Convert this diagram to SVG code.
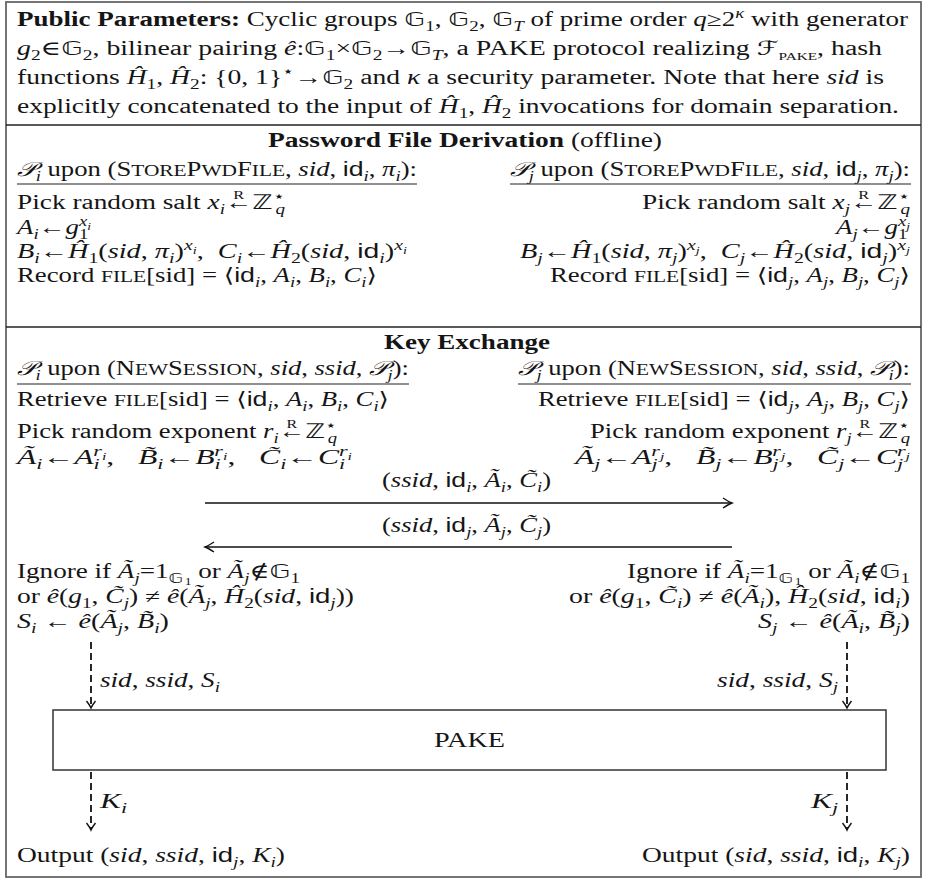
<svg xmlns="http://www.w3.org/2000/svg" width="928" height="880" viewBox="0 0 928 880">
<style>
.t{font-family:"Liberation Serif","DejaVu Serif",serif;font-size:20px;fill:#151515}
.bf{font-weight:bold}
.it{font-style:italic}
.sf{font-family:"Liberation Sans","DejaVu Sans",sans-serif;font-style:normal}
.bb{font-family:"DejaVu Sans",sans-serif;font-style:normal}
.cal{font-family:"DejaVu Sans","DejaVu Serif",serif;font-style:italic}
.sc{font-size:16px}
.sb{font-size:14px;baseline-shift:-4.5px}
.sp{font-size:14px;baseline-shift:8px}
.spsb{font-size:10px;baseline-shift:4.5px}
.sb2{font-size:10px;baseline-shift:-7px}
.ov{font-size:12px;baseline-shift:10px;font-style:normal}
.rule{stroke:#222;stroke-width:1.4;fill:none}
.ul{stroke:#222;stroke-width:1.2}
.frame{stroke:#666;stroke-width:1.8;fill:none}
.arr{stroke:#111;stroke-width:1.6;fill:none}
.dash{stroke:#111;stroke-width:1.8;stroke-dasharray:7 4;fill:none}
</style>
<defs>
<marker id="ah" markerWidth="14" markerHeight="14" viewBox="-12 -7 14 14" refX="0" refY="0" orient="auto" markerUnits="userSpaceOnUse">
<path d="M-9,-5 Q-3,-1 0,0 Q-3,1 -9,5" stroke="#111" stroke-width="1.4" fill="none"/>
</marker>
<marker id="ahs" markerWidth="12" markerHeight="12" viewBox="-10 -6 12 12" refX="0" refY="0" orient="auto" markerUnits="userSpaceOnUse">
<path d="M-7,-4.5 Q-2.5,-1 0,0 Q-2.5,1 -7,4.5" stroke="#111" stroke-width="1.4" fill="none"/>
</marker>
</defs>
<rect class="frame" x="6" y="2" width="915" height="875"/>
<line class="rule" x1="6" y1="125" x2="921" y2="125"/>
<line class="rule" x1="6" y1="327" x2="921" y2="327"/>

<g id="params">
<text class="t" x="17" y="26" textLength="891" lengthAdjust="spacingAndGlyphs"><tspan class="bf">Public Parameters:</tspan> Cyclic groups <tspan class="bb">𝔾</tspan><tspan class="sb">1</tspan>, <tspan class="bb">𝔾</tspan><tspan class="sb">2</tspan>, <tspan class="bb">𝔾</tspan><tspan class="sb it">T</tspan> of prime order <tspan class="it">q</tspan>≥2<tspan class="sp it">κ</tspan> with generator</text>
<text class="t" x="17" y="55" textLength="865" lengthAdjust="spacingAndGlyphs"><tspan class="it">g</tspan><tspan class="sb">2</tspan>∈<tspan class="bb">𝔾</tspan><tspan class="sb">2</tspan>, bilinear pairing <tspan class="it">ê</tspan>:<tspan class="bb">𝔾</tspan><tspan class="sb">1</tspan>×<tspan class="bb">𝔾</tspan><tspan class="sb">2</tspan>→<tspan class="bb">𝔾</tspan><tspan class="sb it">T</tspan>, a PAKE protocol realizing <tspan class="cal">ℱ</tspan><tspan class="sb" style="font-size:11px">PAKE</tspan>, hash</text>
<text class="t" x="17" y="84" textLength="867" lengthAdjust="spacingAndGlyphs">functions <tspan class="it">Ĥ</tspan><tspan class="sb">1</tspan>, <tspan class="it">Ĥ</tspan><tspan class="sb">2</tspan>: {0, 1}<tspan class="sp">⋆</tspan>→<tspan class="bb">𝔾</tspan><tspan class="sb">2</tspan> and <tspan class="it">κ</tspan> a security parameter. Note that here <tspan class="it">sid</tspan> is</text>
<text class="t" x="17" y="113" textLength="882" lengthAdjust="spacingAndGlyphs">explicitly concatenated to the input of <tspan class="it">Ĥ</tspan><tspan class="sb">1</tspan>, <tspan class="it">Ĥ</tspan><tspan class="sb">2</tspan> invocations for domain separation.</text>
</g>

<g id="pwd-header">
<text class="t" x="268" y="147" textLength="394" lengthAdjust="spacingAndGlyphs"><tspan class="bf">Password File Derivation</tspan> (offline)</text>
</g>

<g id="pwd-Pi">
<text class="t" x="17" y="176" textLength="400" lengthAdjust="spacingAndGlyphs"><tspan class="cal">𝒫</tspan><tspan class="sb it">i</tspan> upon (S<tspan class="sc">TORE</tspan>P<tspan class="sc">WD</tspan>F<tspan class="sc">ILE</tspan>, <tspan class="it">sid</tspan>, <tspan class="sf">id</tspan><tspan class="sb it">i</tspan>, <tspan class="it">π</tspan><tspan class="sb it">i</tspan>):</text>
<line class="ul" x1="17" y1="184" x2="417" y2="184"/>
<text class="t" x="17" y="209" textLength="268" lengthAdjust="spacingAndGlyphs">Pick random salt <tspan class="it">x</tspan><tspan class="sb it">i</tspan>←<tspan class="ov" dx="-14">R</tspan><tspan class="bb" dx="6">ℤ</tspan><tspan class="sp">⋆</tspan><tspan class="sb it" dx="-7">q</tspan></text>
<text class="t" x="17" y="234" textLength="74" lengthAdjust="spacingAndGlyphs"><tspan class="it">A</tspan><tspan class="sb it">i</tspan>←<tspan class="it">g</tspan><tspan class="sb">1</tspan><tspan class="sp it" dx="-7">x</tspan><tspan class="spsb it">i</tspan></text>
<text class="t" x="17" y="258" textLength="390" lengthAdjust="spacingAndGlyphs"><tspan class="it">B</tspan><tspan class="sb it">i</tspan>←<tspan class="it">Ĥ</tspan><tspan class="sb">1</tspan>(<tspan class="it">sid</tspan>, <tspan class="it">π</tspan><tspan class="sb it">i</tspan>)<tspan class="sp it">x</tspan><tspan class="spsb it">i</tspan>,&#160;&#160;<tspan class="it">C</tspan><tspan class="sb it">i</tspan>←<tspan class="it">Ĥ</tspan><tspan class="sb">2</tspan>(<tspan class="it">sid</tspan>, <tspan class="sf">id</tspan><tspan class="sb it">i</tspan>)<tspan class="sp it">x</tspan><tspan class="spsb it">i</tspan></text>
<text class="t" x="17" y="282" textLength="360" lengthAdjust="spacingAndGlyphs">Record <tspan class="sc">FILE</tspan>[sid] = ⟨<tspan class="sf">id</tspan><tspan class="sb it">i</tspan>, <tspan class="it">A</tspan><tspan class="sb it">i</tspan>, <tspan class="it">B</tspan><tspan class="sb it">i</tspan>, <tspan class="it">C</tspan><tspan class="sb it">i</tspan>⟩</text>
</g>

<g id="pwd-Pj">
<text class="t" x="510" y="176" textLength="400" lengthAdjust="spacingAndGlyphs"><tspan class="cal">𝒫</tspan><tspan class="sb it">j</tspan> upon (S<tspan class="sc">TORE</tspan>P<tspan class="sc">WD</tspan>F<tspan class="sc">ILE</tspan>, <tspan class="it">sid</tspan>, <tspan class="sf">id</tspan><tspan class="sb it">j</tspan>, <tspan class="it">π</tspan><tspan class="sb it">j</tspan>):</text>
<line class="ul" x1="510" y1="184" x2="911" y2="184"/>
<text class="t" x="642" y="209" textLength="268" lengthAdjust="spacingAndGlyphs">Pick random salt <tspan class="it">x</tspan><tspan class="sb it">j</tspan>←<tspan class="ov" dx="-14">R</tspan><tspan class="bb" dx="6">ℤ</tspan><tspan class="sp">⋆</tspan><tspan class="sb it" dx="-7">q</tspan></text>
<text class="t" x="836" y="234" textLength="74" lengthAdjust="spacingAndGlyphs"><tspan class="it">A</tspan><tspan class="sb it">j</tspan>←<tspan class="it">g</tspan><tspan class="sb">1</tspan><tspan class="sp it" dx="-7">x</tspan><tspan class="spsb it">j</tspan></text>
<text class="t" x="520" y="258" textLength="390" lengthAdjust="spacingAndGlyphs"><tspan class="it">B</tspan><tspan class="sb it">j</tspan>←<tspan class="it">Ĥ</tspan><tspan class="sb">1</tspan>(<tspan class="it">sid</tspan>, <tspan class="it">π</tspan><tspan class="sb it">j</tspan>)<tspan class="sp it">x</tspan><tspan class="spsb it">j</tspan>,&#160;&#160;<tspan class="it">C</tspan><tspan class="sb it">j</tspan>←<tspan class="it">Ĥ</tspan><tspan class="sb">2</tspan>(<tspan class="it">sid</tspan>, <tspan class="sf">id</tspan><tspan class="sb it">j</tspan>)<tspan class="sp it">x</tspan><tspan class="spsb it">j</tspan></text>
<text class="t" x="550" y="282" textLength="360" lengthAdjust="spacingAndGlyphs">Record <tspan class="sc">FILE</tspan>[sid] = ⟨<tspan class="sf">id</tspan><tspan class="sb it">j</tspan>, <tspan class="it">A</tspan><tspan class="sb it">j</tspan>, <tspan class="it">B</tspan><tspan class="sb it">j</tspan>, <tspan class="it">C</tspan><tspan class="sb it">j</tspan>⟩</text>
</g>

<g id="ke-header">
<text class="t bf" x="384" y="349" textLength="166" lengthAdjust="spacingAndGlyphs">Key Exchange</text>
</g>

<g id="ke-Pi">
<text class="t" x="17" y="375" textLength="392" lengthAdjust="spacingAndGlyphs"><tspan class="cal">𝒫</tspan><tspan class="sb it">i</tspan> upon (N<tspan class="sc">EW</tspan>S<tspan class="sc">ESSION</tspan>, <tspan class="it">sid</tspan>, <tspan class="it">ssid</tspan>, <tspan class="cal">𝒫</tspan><tspan class="sb it">j</tspan>):</text>
<line class="ul" x1="17" y1="384" x2="409" y2="384"/>
<text class="t" x="17" y="406" textLength="372" lengthAdjust="spacingAndGlyphs">Retrieve <tspan class="sc">FILE</tspan>[sid] = ⟨<tspan class="sf">id</tspan><tspan class="sb it">i</tspan>, <tspan class="it">A</tspan><tspan class="sb it">i</tspan>, <tspan class="it">B</tspan><tspan class="sb it">i</tspan>, <tspan class="it">C</tspan><tspan class="sb it">i</tspan>⟩</text>
<text class="t" x="17" y="438" textLength="320" lengthAdjust="spacingAndGlyphs">Pick random exponent <tspan class="it">r</tspan><tspan class="sb it">i</tspan>←<tspan class="ov" dx="-14">R</tspan><tspan class="bb" dx="6">ℤ</tspan><tspan class="sp">⋆</tspan><tspan class="sb it" dx="-7">q</tspan></text>
<text class="t" x="17" y="464" textLength="335" lengthAdjust="spacingAndGlyphs"><tspan class="it">Ã</tspan><tspan class="sb it">i</tspan>←<tspan class="it">A</tspan><tspan class="sb it">i</tspan><tspan class="sp it" dx="-4">r</tspan><tspan class="spsb it">i</tspan>,&#160;&#160;&#160;<tspan class="it">B̃</tspan><tspan class="sb it">i</tspan>←<tspan class="it">B</tspan><tspan class="sb it">i</tspan><tspan class="sp it" dx="-4">r</tspan><tspan class="spsb it">i</tspan>,&#160;&#160;&#160;<tspan class="it">C̃</tspan><tspan class="sb it">i</tspan>←<tspan class="it">C</tspan><tspan class="sb it">i</tspan><tspan class="sp it" dx="-4">r</tspan><tspan class="spsb it">i</tspan></text>
<text class="t" x="17" y="578" textLength="283" lengthAdjust="spacingAndGlyphs">Ignore if <tspan class="it">Ã</tspan><tspan class="sb it">j</tspan>=1<tspan class="sb bb">𝔾</tspan><tspan class="sb2" dx="1">1</tspan> or <tspan class="it">Ã</tspan><tspan class="sb it">j</tspan>∉<tspan class="bb">𝔾</tspan><tspan class="sb">1</tspan></text>
<text class="t" x="17" y="603" textLength="337" lengthAdjust="spacingAndGlyphs">or <tspan class="it">ê</tspan>(<tspan class="it">g</tspan><tspan class="sb">1</tspan>, <tspan class="it">C̃</tspan><tspan class="sb it">j</tspan>) ≠ <tspan class="it">ê</tspan>(<tspan class="it">Ã</tspan><tspan class="sb it">j</tspan>, <tspan class="it">Ĥ</tspan><tspan class="sb">2</tspan>(<tspan class="it">sid</tspan>, <tspan class="sf">id</tspan><tspan class="sb it">j</tspan>))</text>
<text class="t" x="17" y="628" textLength="152" lengthAdjust="spacingAndGlyphs"><tspan class="it">S</tspan><tspan class="sb it">i</tspan> ← <tspan class="it">ê</tspan>(<tspan class="it">Ã</tspan><tspan class="sb it">j</tspan>, <tspan class="it">B̃</tspan><tspan class="sb it">i</tspan>)</text>
</g>

<g id="ke-Pj">
<text class="t" x="518" y="375" textLength="392" lengthAdjust="spacingAndGlyphs"><tspan class="cal">𝒫</tspan><tspan class="sb it">j</tspan> upon (N<tspan class="sc">EW</tspan>S<tspan class="sc">ESSION</tspan>, <tspan class="it">sid</tspan>, <tspan class="it">ssid</tspan>, <tspan class="cal">𝒫</tspan><tspan class="sb it">i</tspan>):</text>
<line class="ul" x1="518" y1="384" x2="911" y2="384"/>
<text class="t" x="538" y="406" textLength="372" lengthAdjust="spacingAndGlyphs">Retrieve <tspan class="sc">FILE</tspan>[sid] = ⟨<tspan class="sf">id</tspan><tspan class="sb it">j</tspan>, <tspan class="it">A</tspan><tspan class="sb it">j</tspan>, <tspan class="it">B</tspan><tspan class="sb it">j</tspan>, <tspan class="it">C</tspan><tspan class="sb it">j</tspan>⟩</text>
<text class="t" x="590" y="438" textLength="320" lengthAdjust="spacingAndGlyphs">Pick random exponent <tspan class="it">r</tspan><tspan class="sb it">j</tspan>←<tspan class="ov" dx="-14">R</tspan><tspan class="bb" dx="6">ℤ</tspan><tspan class="sp">⋆</tspan><tspan class="sb it" dx="-7">q</tspan></text>
<text class="t" x="575" y="464" textLength="335" lengthAdjust="spacingAndGlyphs"><tspan class="it">Ã</tspan><tspan class="sb it">j</tspan>←<tspan class="it">A</tspan><tspan class="sb it">j</tspan><tspan class="sp it" dx="-4">r</tspan><tspan class="spsb it">j</tspan>,&#160;&#160;&#160;<tspan class="it">B̃</tspan><tspan class="sb it">j</tspan>←<tspan class="it">B</tspan><tspan class="sb it">j</tspan><tspan class="sp it" dx="-4">r</tspan><tspan class="spsb it">j</tspan>,&#160;&#160;&#160;<tspan class="it">C̃</tspan><tspan class="sb it">j</tspan>←<tspan class="it">C</tspan><tspan class="sb it">j</tspan><tspan class="sp it" dx="-4">r</tspan><tspan class="spsb it">j</tspan></text>
<text class="t" x="627" y="578" textLength="283" lengthAdjust="spacingAndGlyphs">Ignore if <tspan class="it">Ã</tspan><tspan class="sb it">i</tspan>=1<tspan class="sb bb">𝔾</tspan><tspan class="sb2" dx="1">1</tspan> or <tspan class="it">Ã</tspan><tspan class="sb it">i</tspan>∉<tspan class="bb">𝔾</tspan><tspan class="sb">1</tspan></text>
<text class="t" x="569" y="603" textLength="341" lengthAdjust="spacingAndGlyphs">or <tspan class="it">ê</tspan>(<tspan class="it">g</tspan><tspan class="sb">1</tspan>, <tspan class="it">C̃</tspan><tspan class="sb it">i</tspan>) ≠ <tspan class="it">ê</tspan>(<tspan class="it">Ã</tspan><tspan class="sb it">i</tspan>), <tspan class="it">Ĥ</tspan><tspan class="sb">2</tspan>(<tspan class="it">sid</tspan>, <tspan class="sf">id</tspan><tspan class="sb it">i</tspan>)</text>
<text class="t" x="758" y="628" textLength="152" lengthAdjust="spacingAndGlyphs"><tspan class="it">S</tspan><tspan class="sb it">j</tspan> ← <tspan class="it">ê</tspan>(<tspan class="it">Ã</tspan><tspan class="sb it">i</tspan>, <tspan class="it">B̃</tspan><tspan class="sb it">j</tspan>)</text>
</g>

<g id="pake">
<rect x="53" y="710" width="833" height="60" fill="none" stroke="#333" stroke-width="1.5"/>
<text class="t" x="434" y="747" textLength="71" lengthAdjust="spacingAndGlyphs">PAKE</text>
</g>

<g id="out-i">
<text class="t" x="17" y="862" textLength="268" lengthAdjust="spacingAndGlyphs">Output (<tspan class="it">sid</tspan>, <tspan class="it">ssid</tspan>, <tspan class="sf">id</tspan><tspan class="sb it">j</tspan>, <tspan class="it">K</tspan><tspan class="sb it">i</tspan>)</text>
</g>
<g id="out-j">
<text class="t" x="642" y="862" textLength="268" lengthAdjust="spacingAndGlyphs">Output (<tspan class="it">sid</tspan>, <tspan class="it">ssid</tspan>, <tspan class="sf">id</tspan><tspan class="sb it">i</tspan>, <tspan class="it">K</tspan><tspan class="sb it">j</tspan>)</text>
</g>

<g id="connectors">
<line class="arr" x1="205" y1="503" x2="732" y2="503" marker-end="url(#ah)"/>
<line class="arr" x1="732" y1="547" x2="205" y2="547" marker-end="url(#ah)"/>
<text class="t" x="382" y="487" textLength="169" lengthAdjust="spacingAndGlyphs">(<tspan class="it">ssid</tspan>, <tspan class="sf">id</tspan><tspan class="sb it">i</tspan>, <tspan class="it">Ã</tspan><tspan class="sb it">i</tspan>, <tspan class="it">C̃</tspan><tspan class="sb it">i</tspan>)</text>
<text class="t" x="382" y="532" textLength="169" lengthAdjust="spacingAndGlyphs">(<tspan class="it">ssid</tspan>, <tspan class="sf">id</tspan><tspan class="sb it">j</tspan>, <tspan class="it">Ã</tspan><tspan class="sb it">j</tspan>, <tspan class="it">C̃</tspan><tspan class="sb it">j</tspan>)</text>
<line class="dash" x1="91" y1="642" x2="91" y2="708" marker-end="url(#ahs)"/>
<line class="dash" x1="847" y1="642" x2="847" y2="708" marker-end="url(#ahs)"/>
<line class="dash" x1="91" y1="772" x2="91" y2="830" marker-end="url(#ahs)"/>
<line class="dash" x1="847" y1="772" x2="847" y2="830" marker-end="url(#ahs)"/>
<text class="t" x="100" y="687" textLength="120" lengthAdjust="spacingAndGlyphs"><tspan class="it">sid</tspan>, <tspan class="it">ssid</tspan>, <tspan class="it">S</tspan><tspan class="sb it">i</tspan></text>
<text class="t" x="717" y="687" textLength="121" lengthAdjust="spacingAndGlyphs"><tspan class="it">sid</tspan>, <tspan class="it">ssid</tspan>, <tspan class="it">S</tspan><tspan class="sb it">j</tspan></text>
<text class="t" x="100" y="808" textLength="27" lengthAdjust="spacingAndGlyphs"><tspan class="it">K</tspan><tspan class="sb it">i</tspan></text>
<text class="t" x="811" y="808" textLength="27" lengthAdjust="spacingAndGlyphs"><tspan class="it">K</tspan><tspan class="sb it">j</tspan></text>
</g>
</svg>
